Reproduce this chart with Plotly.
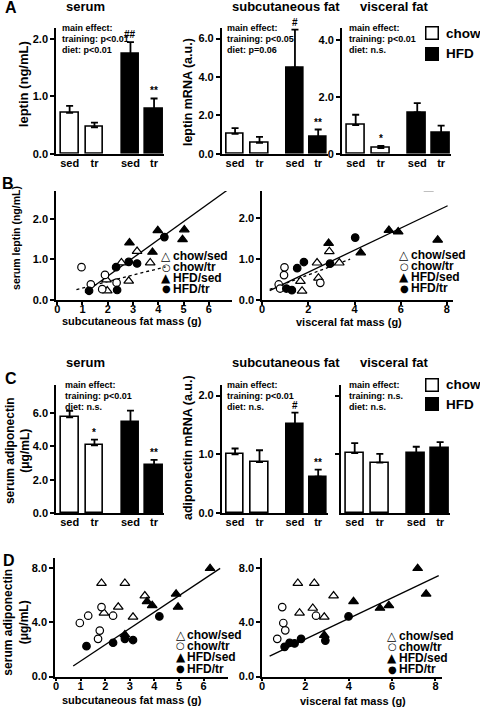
import plotly.graph_objects as go

W, H = 480, 713
FONT = "Liberation Sans, Arial, Helvetica, sans-serif"

# ---------------- data ----------------
bar_pos = [0, 1, 2.45, 3.4]
bar_ticktext = ["sed", "tr", "sed", "tr"]
bar_fill = ["white", "white", "black", "black"]

# Panel A (leptin)
leptin_serum = [0.71, 0.46, 1.73, 0.78]
leptin_serum_err = [0.12, 0.08, 0.21, 0.18]
leptin_serum_sig = ["", "", "##", "**"]
leptin_sc = [1.03, 0.57, 4.48, 0.86]
leptin_sc_err = [0.30, 0.31, 1.98, 0.40]
leptin_sc_sig = ["", "", "#", "**"]
leptin_vis = [1.01, 0.20, 1.45, 0.72]
leptin_vis_err = [0.36, 0.07, 0.33, 0.27]
leptin_vis_sig = ["", "*", "", ""]

# Panel C (adiponectin)
adipo_serum = [5.74, 4.06, 5.45, 2.89]
adipo_serum_err = [0.39, 0.35, 0.70, 0.30]
adipo_serum_sig = ["", "*", "", "**"]
adipo_sc = [1.00, 0.87, 1.51, 0.62]
adipo_sc_err = [0.10, 0.20, 0.20, 0.12]
adipo_sc_sig = ["", "", "#", "**"]
adipo_vis = [1.02, 0.86, 1.02, 1.11]
adipo_vis_err = [0.17, 0.15, 0.11, 0.10]
adipo_vis_sig = ["", "", "", ""]

# Panel B left: subcutaneous fat mass (g) vs serum leptin (ng/mL)
bL_chow_sed_x = [3.16, 2.54, 3.68, 2.83, 1.98, 1.95]
bL_chow_sed_y = [1.20, 0.92, 0.92, 0.47, 0.23, 0.50]
bL_chow_tr_x = [0.96, 1.33, 1.89, 1.78, 2.35]
bL_chow_tr_y = [0.81, 0.39, 0.62, 0.27, 0.43]
bL_hfd_sed_x = [6.33, 3.98, 5.03, 4.96, 2.86, 3.77]
bL_hfd_sed_y = [2.75, 1.71, 1.73, 1.49, 1.41, 1.18]
bL_hfd_tr_x = [4.24, 2.83, 3.16, 2.33, 1.26, 2.37]
bL_hfd_tr_y = [1.55, 0.94, 0.90, 0.81, 0.23, 0.25]
bL_fit_all_x = [1.10, 6.88]
bL_fit_all_y = [0.19, 2.77]
bL_fit_chow_x = [0.76, 4.29]
bL_fit_chow_y = [0.26, 0.82]

# Panel B right: visceral fat mass (g) vs serum leptin
bR_chow_sed_x = [2.91, 2.38, 3.34, 1.66, 1.73, 2.44]
bR_chow_sed_y = [1.19, 0.91, 0.91, 0.46, 0.22, 0.54]
bR_chow_tr_x = [0.97, 0.95, 0.72, 0.78, 2.52]
bR_chow_tr_y = [0.80, 0.61, 0.38, 0.28, 0.42]
bR_hfd_sed_x = [7.21, 5.49, 5.89, 7.60, 2.88, 4.27]
bR_hfd_sed_y = [2.73, 1.71, 1.67, 1.47, 1.39, 1.16]
bR_hfd_tr_x = [4.03, 1.81, 1.52, 2.94, 1.05, 1.29]
bR_hfd_tr_y = [1.53, 0.93, 0.78, 0.89, 0.28, 0.24]
bR_fit_all_x = [0.33, 8.03]
bR_fit_all_y = [0.23, 2.31]
bR_fit_chow_x = [0.33, 3.81]
bR_fit_chow_y = [0.26, 1.00]

# Panel D left: subcutaneous fat mass vs serum adiponectin (ug/mL)
dL_chow_sed_x = [1.85, 2.80, 3.61, 1.95, 2.53, 3.13]
dL_chow_sed_y = [6.90, 6.90, 5.97, 4.70, 5.14, 4.40]
dL_chow_tr_x = [0.97, 1.31, 1.85, 2.32, 1.78, 1.71]
dL_chow_tr_y = [3.96, 4.50, 5.14, 4.50, 3.40, 2.79]
dL_hfd_sed_x = [6.26, 4.88, 4.96, 3.70, 3.91, 2.80]
dL_hfd_sed_y = [8.00, 6.11, 5.14, 5.55, 5.26, 3.10]
dL_hfd_tr_x = [1.24, 2.32, 2.80, 3.13, 4.20]
dL_hfd_tr_y = [2.25, 2.50, 2.79, 2.70, 4.45]
dL_fit_x = [0.70, 6.67]
dL_fit_y = [0.78, 8.00]

# Panel D right: visceral fat mass vs serum adiponectin
dR_chow_sed_x = [1.65, 2.41, 3.30, 1.73, 2.34, 2.87]
dR_chow_sed_y = [6.90, 6.90, 5.97, 4.70, 5.06, 4.40]
dR_chow_tr_x = [0.93, 0.98, 1.07, 0.70, 2.49]
dR_chow_tr_y = [5.14, 3.96, 3.42, 2.79, 4.50]
dR_hfd_sed_x = [7.18, 7.57, 4.22, 5.44, 5.85, 2.87]
dR_hfd_sed_y = [8.00, 6.11, 5.55, 5.06, 5.26, 3.05]
dR_hfd_tr_x = [1.04, 1.27, 1.50, 1.80, 2.92, 3.99]
dR_hfd_tr_y = [2.20, 2.50, 2.45, 2.79, 2.66, 4.45]
dR_fit_x = [0.35, 8.15]
dR_fit_y = [1.51, 7.46]

# ---------------- helpers ----------------
def fx(p):
    return p / W

def fy(p):
    return 1 - p / H

fig = go.Figure()
annotations = []

def ann(text, x, y, size=11, xanchor="center", yanchor="middle", angle=0, **kw):
    annotations.append(dict(text=text, x=fx(x), y=fy(y), xref="paper", yref="paper",
                            xanchor=xanchor, yanchor=yanchor, showarrow=False,
                            textangle=angle,
                            font=dict(family=FONT, size=size, color="black", weight="bold"),
                            **kw))

axis_common = dict(showline=True, linecolor="black", linewidth=1.5, showgrid=False,
                   zeroline=False, tickcolor="black", tickwidth=1.5, ticklen=4,
                   tickfont=dict(family=FONT, size=11, color="black", weight="bold"))

layout_axes = {}

def add_axes(i, xpx, ypx, xextra, yextra):
    xn = "xaxis" if i == 1 else f"xaxis{i}"
    yn = "yaxis" if i == 1 else f"yaxis{i}"
    xa = dict(axis_common, domain=[fx(xpx[0]), fx(xpx[1])], anchor=("y" if i == 1 else f"y{i}"))
    xa.update(xextra)
    ya = dict(axis_common, domain=[fy(ypx[1]), fy(ypx[0])], anchor=("x" if i == 1 else f"x{i}"))
    ya.update(yextra)
    layout_axes[xn] = xa
    layout_axes[yn] = ya

def bar_panel(i, vals, errs, sig, xpx, ypx, yrange, tickvals, ticktext=None, showlabels=True):
    xr = "x" if i == 1 else f"x{i}"
    yr = "y" if i == 1 else f"y{i}"
    fig.add_trace(go.Bar(x=bar_pos, y=vals, width=0.72, xaxis=xr, yaxis=yr,
                         marker=dict(color=bar_fill, line=dict(color="black", width=1.6)),
                         error_y=dict(type="data", array=errs, arrayminus=[0] * len(errs),
                                      symmetric=False, color="black", thickness=1.8, width=3.5),
                         showlegend=False, hoverinfo="skip"))
    yextra = dict(range=yrange, tickvals=tickvals, ticks="outside", showticklabels=showlabels)
    if ticktext is not None:
        yextra["ticktext"] = ticktext
    else:
        yextra["tickformat"] = ".1f"
    add_axes(i, xpx, ypx,
             dict(range=[-0.55, 3.8], tickvals=bar_pos, ticktext=bar_ticktext, ticks="",
                  ticklabelstandoff=-2),
             yextra)
    for p, v, e, s in zip(bar_pos, vals, errs, sig):
        if s:
            annotations.append(dict(text=s, x=p, y=v + e, xref=xr, yref=yr, showarrow=False,
                                    xanchor="center", yanchor="bottom", yshift=0,
                                    font=dict(family=FONT, size=10, color="black", weight="bold")))

def scatter_panel(i, series, fits, xpx, ypx, xrange, xtickvals, yrange, ytickvals):
    xr = "x" if i == 1 else f"x{i}"
    yr = "y" if i == 1 else f"y{i}"
    for fxv, fyv, dash in fits:
        fig.add_trace(go.Scatter(x=fxv, y=fyv, mode="lines", xaxis=xr, yaxis=yr,
                                 line=dict(color="black", width=1.3, dash=dash),
                                 showlegend=False, hoverinfo="skip"))
    styles = [("triangle-up", "white", 8.5), ("circle", "white", 7.5),
              ("triangle-up", "black", 8.5), ("circle", "black", 7.5)]
    for (sx, sy), (sym, col, sz) in zip(series, styles):
        fig.add_trace(go.Scatter(x=sx, y=sy, mode="markers", xaxis=xr, yaxis=yr,
                                 marker=dict(symbol=sym, color=col, size=sz,
                                             line=dict(color="black", width=1.2)),
                                 showlegend=False, hoverinfo="skip"))
    add_axes(i, xpx, ypx,
             dict(range=xrange, tickvals=xtickvals, ticks="outside", ticklen=3,
                  ticklabelstandoff=-5),
             dict(range=yrange, tickvals=ytickvals, ticks="outside", tickformat=".1f"))

# ---------------- Panel A ----------------
bar_panel(1, leptin_serum, leptin_serum_err, leptin_serum_sig, (53.3, 162), (28, 155),
          [0, 2.19], [0, 1, 2])
bar_panel(2, leptin_sc, leptin_sc_err, leptin_sc_sig, (220, 327), (28, 155),
          [0, 6.56], [0, 2, 4, 6])
bar_panel(3, leptin_vis, leptin_vis_err, leptin_vis_sig, (341, 451), (28, 155),
          [0, 4.43], [0, 2, 4], ticktext=["0", "2.0", "4.0"])

# ---------------- Panel B ----------------
scatter_panel(4, [(bL_chow_sed_x, bL_chow_sed_y), (bL_chow_tr_x, bL_chow_tr_y),
                  (bL_hfd_sed_x, bL_hfd_sed_y), (bL_hfd_tr_x, bL_hfd_tr_y)],
              [(bL_fit_all_x, bL_fit_all_y, "solid"), (bL_fit_chow_x, bL_fit_chow_y, "dot")],
              (53.3, 230), (192.7, 302.7), [-0.05, 6.9], [0, 1, 2, 3, 4, 5, 6],
              [0, 2.68], [0, 1, 2])
scatter_panel(5, [(bR_chow_sed_x, bR_chow_sed_y), (bR_chow_tr_x, bR_chow_tr_y),
                  (bR_hfd_sed_x, bR_hfd_sed_y), (bR_hfd_tr_x, bR_hfd_tr_y)],
              [(bR_fit_all_x, bR_fit_all_y, "solid"), (bR_fit_chow_x, bR_fit_chow_y, "dot")],
              (260.7, 453), (192.7, 302.5), [0, 8.27], [0, 2, 4, 6, 8],
              [0, 2.67], [0, 1, 2])

# ---------------- Panel C ----------------
bar_panel(6, adipo_serum, adipo_serum_err, adipo_serum_sig, (53.3, 162), (388.3, 517.5),
          [0, 7.68], [0, 2, 4, 6])
bar_panel(7, adipo_sc, adipo_sc_err, adipo_sc_sig, (220, 327), (388.3, 517.5),
          [0, 2.18], [0, 1, 2])
bar_panel(8, adipo_vis, adipo_vis_err, adipo_vis_sig, (340, 450), (388.3, 517.5),
          [0, 2.18], [1, 2], showlabels=False)

# ---------------- Panel D ----------------
scatter_panel(9, [(dL_chow_sed_x, dL_chow_sed_y), (dL_chow_tr_x, dL_chow_tr_y),
                  (dL_hfd_sed_x, dL_hfd_sed_y), (dL_hfd_tr_x, dL_hfd_tr_y)],
              [(dL_fit_x, dL_fit_y, "solid")],
              (52.3, 226.7), (562.3, 682.3), [-0.04, 7.0], [0, 1, 2, 3, 4, 5, 6],
              [0, 8.8], [0, 4, 8])
scatter_panel(10, [(dR_chow_sed_x, dR_chow_sed_y), (dR_chow_tr_x, dR_chow_tr_y),
                   (dR_hfd_sed_x, dR_hfd_sed_y), (dR_hfd_tr_x, dR_hfd_tr_y)],
              [(dR_fit_x, dR_fit_y, "solid")],
              (260.7, 441.7), (562.3, 682.3), [0, 8.3], [0, 2, 4, 6, 8],
              [0, 8.8], [0, 4, 8])

# ---------------- text ----------------
# panel letters
ann("A", 0, 8, size=16, xanchor="left")
ann("B", -3, 185, size=16, xanchor="left")
ann("C", 0, 382, size=16, xanchor="left")
ann("D", -2, 565, size=16, xanchor="left")

# titles
for ty in (7, 366):
    ann("serum", 83, ty, size=13)
    ann("subcutaneous fat", 285, ty, size=13)
    ann("visceral fat", 394, ty, size=13)

# y labels
ann("leptin (ng/mL)", 20, 85, size=13, angle=-90)
ann("leptin mRNA (a.u.)", 186, 93, size=12.5, angle=-90)
ann("serum leptin (ng/mL)", 13, 240, size=10.5, angle=-90)
ann("serum adiponectin<br>(μg/mL)", 15, 454, size=12, angle=-90)
ann("adiponectin mRNA (a.u.)", 186, 451, size=12.5, angle=-90)
ann("serum adiponectin<br>(μg/mL)", 13, 627, size=12, angle=-90)

# x labels
ann("subcutaneous fat mass (g)", 130, 324, size=11)
ann("visceral fat mass (g)", 348, 325, size=11)
ann("subcutaneous fat mass (g)", 130, 706, size=11)
ann("visceral fat mass (g)", 352, 707, size=11)

# main-effect texts
def effects(x, ys, lines):
    for y, t in zip(ys, lines):
        ann(t, x, y, size=9, xanchor="left")

effects(57, (28.3, 39.3, 50.3), ["main effect:", "training: p&lt;0.01", "diet: p&lt;0.01"])
effects(223, (28.3, 39.3, 50.3), ["main effect:", "training: p&lt;0.05", "diet: p=0.06"])
effects(346, (28.3, 39.3, 50.3), ["main effect:", "training: p&lt;0.01", "diet: n.s."])
effects(60.5, (388.3, 399.3, 410.3), ["main effect:", "training: p&lt;0.01", "diet: n.s."])
effects(223, (388.3, 399.3, 410.3), ["main effect:", "training: p&lt;0.01", "diet: n.s."])
effects(346, (388.3, 399.3, 410.3), ["main effect:", "training: n.s.", "diet: n.s."])

# bar legends (chow / HFD)
for y_chow, y_hfd in ((33.5, 54), (388, 407.5)):
    for yy, col, lab in ((y_chow, "white", "chow"), (y_hfd, "black", "HFD")):
        annotations.append(dict(text=" ", x=fx(432), y=fy(yy), xref="paper", yref="paper",
                                xanchor="center", yanchor="middle", showarrow=False,
                                width=11, height=11, bgcolor=col, bordercolor="black",
                                borderwidth=1.5, borderpad=0,
                                font=dict(size=6)))
        ann(lab, 444, yy, size=13.5, xanchor="left")

# scatter legends (symbol glyph + label)
legend_symbols = ["△", "○", "▲", "●"]
legend_symbol_sizes = [12, 10, 12, 10]
legend_names = ["chow/sed", "chow/tr", "HFD/sed", "HFD/tr"]
for xs, xt, ys in ((164.5, 170.5, (258.3, 269.3, 280, 291)),
                   (404, 409.5, (256.7, 268.3, 279.3, 290.7)),
                   (179, 184.5, (640, 651, 662.7, 674.3)),
                   (391.5, 397, (641, 652, 663.3, 675))):
    for y, s, ss, t in zip(ys, legend_symbols, legend_symbol_sizes, legend_names):
        annotations.append(dict(text=s, x=fx(xs), y=fy(y), xref="paper", yref="paper",
                                xanchor="center", yanchor="middle", showarrow=False,
                                borderpad=0,
                                font=dict(family="DejaVu Sans", size=ss, color="black")))
        ann(t, xt, y, size=12, xanchor="left", borderpad=0)

fig.update_layout(
    width=W, height=H, autosize=False,
    margin=dict(l=0, r=0, t=0, b=0),
    paper_bgcolor="white", plot_bgcolor="white",
    font=dict(family=FONT, color="black"),
    bargap=0, showlegend=False,
    annotations=annotations,
    **layout_axes,
)

fig.write_html("out.html", config={"displayModeBar": False},
               post_script="document.body.style.margin='0px';")
